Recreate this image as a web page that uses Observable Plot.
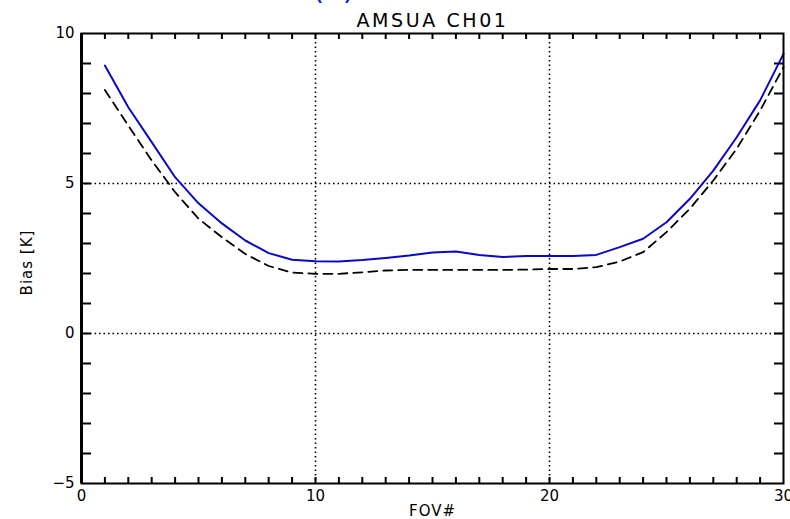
<!DOCTYPE html>
<html><head><meta charset="utf-8">
<script src="https://cdn.jsdelivr.net/npm/d3@7"></script>
<script src="https://cdn.jsdelivr.net/npm/@observablehq/plot@0.6"></script>
<style>
html,body{margin:0;padding:0;background:#fff;}
</style>
</head><body><div id="chart"></div>
<script>
const fov = [1,2,3,4,5,6,7,8,9,10,11,12,13,14,15,16,17,18,19,20,21,22,23,24,25,26,27,28,29,30];
const biasBlue = [8.93,7.54,6.38,5.21,4.34,3.67,3.10,2.68,2.46,2.41,2.40,2.45,2.52,2.60,2.70,2.73,2.62,2.55,2.58,2.58,2.58,2.62,2.88,3.16,3.71,4.49,5.43,6.54,7.77,9.32];
const biasDashed = [8.12,6.93,5.77,4.71,3.83,3.21,2.65,2.25,2.03,1.99,1.99,2.04,2.10,2.12,2.12,2.12,2.12,2.12,2.13,2.15,2.15,2.21,2.40,2.71,3.38,4.16,5.10,6.16,7.43,8.88];
const xLabelTicks = [0,10,20,30];
const yLabelTicks = [-5,0,5,10];
const xMinorTicks = [1,2,3,4,5,6,7,8,9,10,11,12,13,14,15,16,17,18,19,20,21,22,23,24,25,26,27,28,29];
const yMinorTicks = [-4,-3,-2,-1,0,1,2,3,4,5,6,7,8,9];
const gridX = [10,20];
const gridY = [0,5];
const titleText = "AMSUA CH01";
const panelText = "(a)";
const xLabel = "FOV#";
const yLabel = "Bias [K]";

const blueData = fov.map((x,i)=>({x, y: biasBlue[i]}));
const dashedData = fov.map((x,i)=>({x, y: biasDashed[i]}));

const chart = Plot.plot({
  width: 790, height: 519,
  marginLeft: 81, marginRight: 7, marginTop: 33, marginBottom: 36,
  style: {fontFamily: "DejaVu Sans", fontSize: "15px", background: "#fff", color: "#000", overflow: "hidden"},
  x: {domain: [0,30]},
  y: {domain: [-5,10]},
  marks: [
    Plot.ruleX(gridX, {x: d=>d, stroke: "#000", strokeWidth: 1.6, strokeDasharray: "1.6,2.9"}),
    Plot.ruleY(gridY, {y: d=>d, stroke: "#000", strokeWidth: 1.6, strokeDasharray: "1.6,2.9"}),
    Plot.tickX(xMinorTicks, {x: d=>d, insetTop: 444, stroke: "#000", strokeWidth: 2}),
    Plot.tickX(xMinorTicks, {x: d=>d, insetBottom: 444, stroke: "#000", strokeWidth: 2}),
    Plot.tickY(yMinorTicks, {y: d=>d, insetRight: 692, stroke: "#000", strokeWidth: 2}),
    Plot.tickY(yMinorTicks, {y: d=>d, insetLeft: 693, stroke: "#000", strokeWidth: 2}),
    Plot.line(dashedData, {x: "x", y: "y", stroke: "#000", strokeWidth: 1.8, strokeDasharray: "9,6"}),
    Plot.line(blueData, {x: "x", y: "y", stroke: "#0a0ac4", strokeWidth: 2}),
    Plot.frame({stroke: "#000", strokeWidth: 2}),
    Plot.ruleX([0], {x: d=>d, stroke: "#000", strokeWidth: 3}),
    Plot.axisX(xLabelTicks, {tickSize: 0, tickPadding: 7, fontSize: 15, label: null}),
    Plot.axisY(yLabelTicks, {tickSize: 0, tickPadding: 7, fontSize: 15, label: null}),
    Plot.text([titleText], {text: d=>d, frameAnchor: "top", dx: 0, dy: -7, lineAnchor: "bottom", textAnchor: "middle", fontSize: 19, fill: "#000"}),
    Plot.text([panelText], {text: d=>d, frameAnchor: "top-left", dx: 252, dy: -34.5, lineAnchor: "bottom", textAnchor: "middle", fontSize: 30, fill: "#1a1ad0"}),
    Plot.text([xLabel], {text: d=>d, frameAnchor: "bottom", dx: 0, dy: 28, lineAnchor: "middle", textAnchor: "middle", fontSize: 15, fill: "#000"}),
    Plot.text([yLabel], {text: d=>d, frameAnchor: "left", dx: -54, dy: 4, rotate: -90, lineAnchor: "middle", textAnchor: "middle", fontSize: 15, fill: "#000"})
  ]
});
d3.select(chart).selectAll("text").filter(function(){ return this.textContent === titleText; })
  .attr("letter-spacing", "2.6");
d3.select(chart).selectAll("text").filter(function(){ return this.textContent === xLabel || this.textContent === yLabel; })
  .attr("letter-spacing", "1");
document.getElementById("chart").appendChild(chart);
</script>
</body></html>
